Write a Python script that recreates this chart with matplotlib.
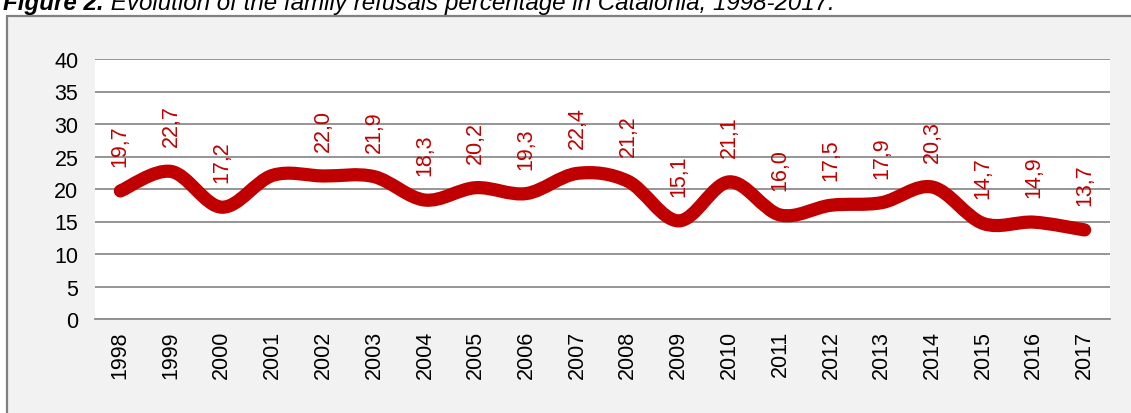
import matplotlib.pyplot as plt
import numpy as np
from matplotlib.patches import PathPatch, Rectangle
from matplotlib.path import Path

plt.rcParams["font.family"] = ["Liberation Sans", "DejaVu Sans"]

years = [str(y) for y in range(1998, 2018)]
refusals = [19.7, 22.7, 17.2, 22.1, 22.0, 21.9, 18.3, 20.2, 19.3, 22.4,
            21.2, 15.1, 21.1, 16.0, 17.5, 17.9, 20.3, 14.7, 14.9, 13.7]
value_labels = ["19,7", "22,7", "17,2", "", "22,0", "21,9", "18,3", "20,2", "19,3", "22,4",
                "21,2", "15,1", "21,1", "16,0", "17,5", "17,9", "20,3", "14,7", "14,9", "13,7"]
title_bold = "Figure 2."
title_rest = " Evolution of the family refusals percentage in Catalonia, 1998-2017."

RED = "#c00000"
W, H = 1131, 414

fig = plt.figure(figsize=(W / 100, H / 100), dpi=100)
fig.patch.set_facecolor("white")

# outer chart box
box = Rectangle((7 / W, -0.05), 1.1, 1 - 17 / H + 0.05, transform=fig.transFigure,
                facecolor="#f2f2f2", edgecolor="#808080", lw=1.6, zorder=-5)
fig.add_artist(box)

t1 = fig.text(3 / W, 1 - 10 / H, title_bold, fontsize=17.4, fontweight="bold",
              style="italic", va="baseline", ha="left")
fig.canvas.draw()
bb = t1.get_window_extent()
fig.text(bb.x1 / W, 1 - 10 / H, title_rest, fontsize=17.4, style="italic",
         va="baseline", ha="left")

ax = fig.add_axes([95 / W, (H - 320) / H, (1110 - 95) / W, (320 - 60) / H])
ax.set_facecolor("white")

x = np.arange(len(refusals))
y = np.array(refusals)

# Excel-style smoothed line (cubic Bezier through each point)
verts = [(x[0], y[0])]
codes = [Path.MOVETO]
n = len(x)
for i in range(n - 1):
    p0 = np.array([x[max(i - 1, 0)], y[max(i - 1, 0)]])
    p1 = np.array([x[i], y[i]])
    p2 = np.array([x[i + 1], y[i + 1]])
    p3 = np.array([x[min(i + 2, n - 1)], y[min(i + 2, n - 1)]])
    c1 = p1 + (p2 - p0) / 6
    c2 = p2 - (p3 - p1) / 6
    verts += [tuple(c1), tuple(c2), tuple(p2)]
    codes += [Path.CURVE4] * 3
patch = PathPatch(Path(verts, codes), facecolor="none", edgecolor=RED, lw=9.5,
                  capstyle="round", joinstyle="round", zorder=3)
ax.add_patch(patch)

for xi, yi, lab in zip(x, y, value_labels):
    if lab:
        ax.annotate(lab, (xi, yi), xytext=(0, 18), textcoords="offset points",
                    rotation=90, ha="center", va="bottom", color=RED, fontsize=15.5)

ax.set_xlim(-0.5, len(years) - 0.5)
ax.set_ylim(0, 40)
ax.set_yticks(range(0, 41, 5))
ax.set_xticks(x)
ax.set_xticklabels(years, rotation=90)
ax.yaxis.grid(True, color="#8c8c8c", lw=1.3)
ax.set_axisbelow(True)
for s in ["top", "right", "left"]:
    ax.spines[s].set_visible(False)
ax.spines["bottom"].set_color("#8c8c8c")
ax.spines["bottom"].set_linewidth(1.3)
ax.tick_params(axis="both", length=0, labelsize=15.5)
ax.tick_params(axis="y", pad=12)
ax.tick_params(axis="x", pad=8)

fig.savefig("out.png", dpi=100)
